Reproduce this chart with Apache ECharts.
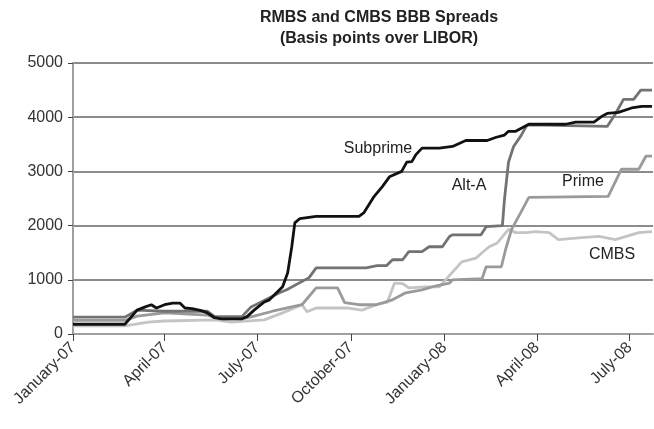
<!DOCTYPE html>
<html>
<head>
<meta charset="utf-8">
<script src="https://cdn.jsdelivr.net/npm/echarts@6/dist/echarts.min.js"></script>
<style>
  html, body { margin: 0; padding: 0; background: #fff; }
  #main { width: 654px; height: 429px; }
</style>
</head>
<body>
<div id="main"></div>
<script>
// spreads in basis points over LIBOR
var subprime = [
  ['2007-01-01', 180], ['2007-02-21', 180], ['2007-03-05', 440], ['2007-03-13', 500],
  ['2007-03-19', 540], ['2007-03-24', 480], ['2007-04-01', 540], ['2007-04-09', 570],
  ['2007-04-16', 570], ['2007-04-21', 480], ['2007-04-28', 470], ['2007-05-07', 430],
  ['2007-05-13', 390], ['2007-05-20', 300], ['2007-05-27', 280], ['2007-06-16', 280],
  ['2007-06-21', 320], ['2007-06-28', 440], ['2007-07-08', 590], ['2007-07-13', 630],
  ['2007-07-26', 870], ['2007-07-31', 1130], ['2007-08-04', 1610], ['2007-08-07', 2050],
  ['2007-08-12', 2130], ['2007-08-28', 2170], ['2007-10-09', 2170], ['2007-10-14', 2240],
  ['2007-10-24', 2540], ['2007-11-01', 2720], ['2007-11-08', 2900], ['2007-11-20', 3000],
  ['2007-11-25', 3170], ['2007-11-30', 3180], ['2007-12-04', 3310], ['2007-12-10', 3430],
  ['2007-12-27', 3430], ['2008-01-09', 3460], ['2008-01-22', 3570], ['2008-02-12', 3570],
  ['2008-02-21', 3630], ['2008-02-29', 3670], ['2008-03-04', 3740], ['2008-03-11', 3740],
  ['2008-03-24', 3870], ['2008-04-29', 3870], ['2008-05-09', 3910], ['2008-05-27', 3910],
  ['2008-06-04', 4020], ['2008-06-09', 4070], ['2008-06-20', 4090], ['2008-07-03', 4170],
  ['2008-07-13', 4200], ['2008-07-23', 4200]
];
var altA = [
  ['2007-01-01', 310], ['2007-02-21', 310], ['2007-03-05', 440], ['2007-04-01', 420],
  ['2007-05-13', 420], ['2007-05-20', 320], ['2007-06-16', 320], ['2007-06-25', 500],
  ['2007-07-03', 570], ['2007-07-23', 760], ['2007-07-30', 815], ['2007-08-21', 1040],
  ['2007-08-28', 1220], ['2007-10-16', 1220], ['2007-10-27', 1260], ['2007-11-05', 1260],
  ['2007-11-11', 1370], ['2007-11-21', 1370], ['2007-11-27', 1520], ['2007-12-10', 1520],
  ['2007-12-17', 1610], ['2007-12-30', 1610], ['2008-01-06', 1800], ['2008-01-09', 1830],
  ['2008-02-06', 1830], ['2008-02-11', 1980], ['2008-02-27', 2000], ['2008-02-29', 2480],
  ['2008-03-04', 3170], ['2008-03-09', 3460], ['2008-03-16', 3650], ['2008-03-22', 3850],
  ['2008-03-26', 3860], ['2008-06-09', 3830], ['2008-06-17', 4060], ['2008-06-25', 4330],
  ['2008-07-05', 4330], ['2008-07-12', 4500], ['2008-07-23', 4500]
];
var prime = [
  ['2007-01-01', 250], ['2007-02-21', 250], ['2007-03-05', 330], ['2007-04-01', 390],
  ['2007-05-13', 350], ['2007-05-27', 280], ['2007-06-16', 280], ['2007-06-28', 330],
  ['2007-07-16', 420], ['2007-08-14', 540], ['2007-08-28', 850], ['2007-09-18', 850],
  ['2007-09-25', 580], ['2007-10-09', 540], ['2007-10-26', 540], ['2007-11-11', 630],
  ['2007-11-24', 760], ['2007-12-10', 815], ['2007-12-24', 890], ['2008-01-06', 940],
  ['2008-01-09', 1000], ['2008-02-07', 1020], ['2008-02-11', 1240], ['2008-02-26', 1240],
  ['2008-03-01', 1550], ['2008-03-07', 1930], ['2008-03-16', 2240], ['2008-03-24', 2520],
  ['2008-06-10', 2540], ['2008-06-23', 3040], ['2008-07-10', 3040], ['2008-07-17', 3280],
  ['2008-07-23', 3280]
];
var cmbs = [
  ['2007-01-01', 150], ['2007-02-21', 150], ['2007-03-16', 220], ['2007-04-01', 240],
  ['2007-05-20', 260], ['2007-06-06', 220], ['2007-07-08', 260], ['2007-07-26', 390],
  ['2007-08-14', 540], ['2007-08-19', 410], ['2007-08-28', 480], ['2007-09-27', 480],
  ['2007-10-12', 440], ['2007-10-26', 540], ['2007-11-06', 590], ['2007-11-13', 940],
  ['2007-11-21', 930], ['2007-11-27', 850], ['2007-12-14', 870], ['2007-12-27', 870],
  ['2008-01-18', 1330], ['2008-02-01', 1400], ['2008-02-07', 1500], ['2008-02-14', 1610],
  ['2008-02-22', 1680], ['2008-03-04', 1930], ['2008-03-11', 1870], ['2008-03-21', 1870],
  ['2008-03-31', 1890], ['2008-04-13', 1870], ['2008-04-22', 1740], ['2008-05-15', 1780],
  ['2008-06-01', 1800], ['2008-06-17', 1740], ['2008-07-10', 1870], ['2008-07-23', 1890]
];
var monthNames = ['January', 'February', 'March', 'April', 'May', 'June', 'July',
  'August', 'September', 'October', 'November', 'December'];

var myChart = echarts.init(document.getElementById('main'));

function lineSeries(name, data, color) {
  return {
    name: name,
    type: 'line',
    data: data,
    symbol: 'none',
    lineStyle: { color: color, width: 2.8 },
    z: 3
  };
}

function annot(text, x, y) {
  return {
    type: 'text', x: x, y: y, z: 10,
    style: {
      text: text, fill: '#222', font: '16px "Liberation Sans", Arial, sans-serif',
      textAlign: 'center', textVerticalAlign: 'middle'
    }
  };
}

option = {
  animation: false,
  backgroundColor: '#fff',
  grid: { left: 73, right: 1, top: 63, bottom: 95 },
  xAxis: {
    type: 'time',
    min: '2007-01-01',
    max: '2008-07-24',
    splitNumber: 5,
    axisLine: { lineStyle: { color: '#a0a0a0', width: 2 } },
    axisTick: { show: true, length: 7, lineStyle: { color: '#444', width: 1 } },
    splitLine: { show: false },
    axisLabel: {
      rotate: 45,
      margin: 11,
      color: '#333',
      fontSize: 16,
      fontFamily: 'Liberation Sans, Arial, sans-serif',
      hideOverlap: false,
      formatter: function (val) {
        var d = new Date(val);
        var yy = String(d.getFullYear()).slice(2);
        return monthNames[d.getMonth()] + '-' + yy;
      }
    }
  },
  yAxis: {
    type: 'value',
    min: 0,
    max: 5000,
    interval: 1000,
    axisLine: { show: true, lineStyle: { color: '#a0a0a0', width: 2 } },
    axisTick: { show: true, length: 5, lineStyle: { color: '#444' } },
    splitLine: { lineStyle: { color: '#666', width: 1.5 } },
    axisLabel: {
      margin: 10,
      color: '#333',
      fontSize: 16,
      fontFamily: 'Liberation Sans, Arial, sans-serif',
      formatter: function (v) { return String(v); }
    }
  },
  series: [
    lineSeries('CMBS', cmbs, '#c4c4c4'),
    lineSeries('Prime', prime, '#9a9a9a'),
    lineSeries('Alt-A', altA, '#737373'),
    lineSeries('Subprime', subprime, '#111')
  ],
  graphic: [
    {
      type: 'text', x: 379, y: 18,
      style: {
        text: 'RMBS and CMBS BBB Spreads', fill: '#222',
        font: 'bold 16px "Liberation Sans", Arial, sans-serif',
        textAlign: 'center', textVerticalAlign: 'middle'
      }
    },
    {
      type: 'text', x: 379, y: 39,
      style: {
        text: '(Basis points over LIBOR)', fill: '#222',
        font: 'bold 16px "Liberation Sans", Arial, sans-serif',
        textAlign: 'center', textVerticalAlign: 'middle'
      }
    },
    annot('Subprime', 378, 149),
    annot('Alt-A', 469, 186),
    annot('Prime', 583, 182),
    annot('CMBS', 612, 255)
  ]
};

myChart.setOption(option);
</script>
</body>
</html>
